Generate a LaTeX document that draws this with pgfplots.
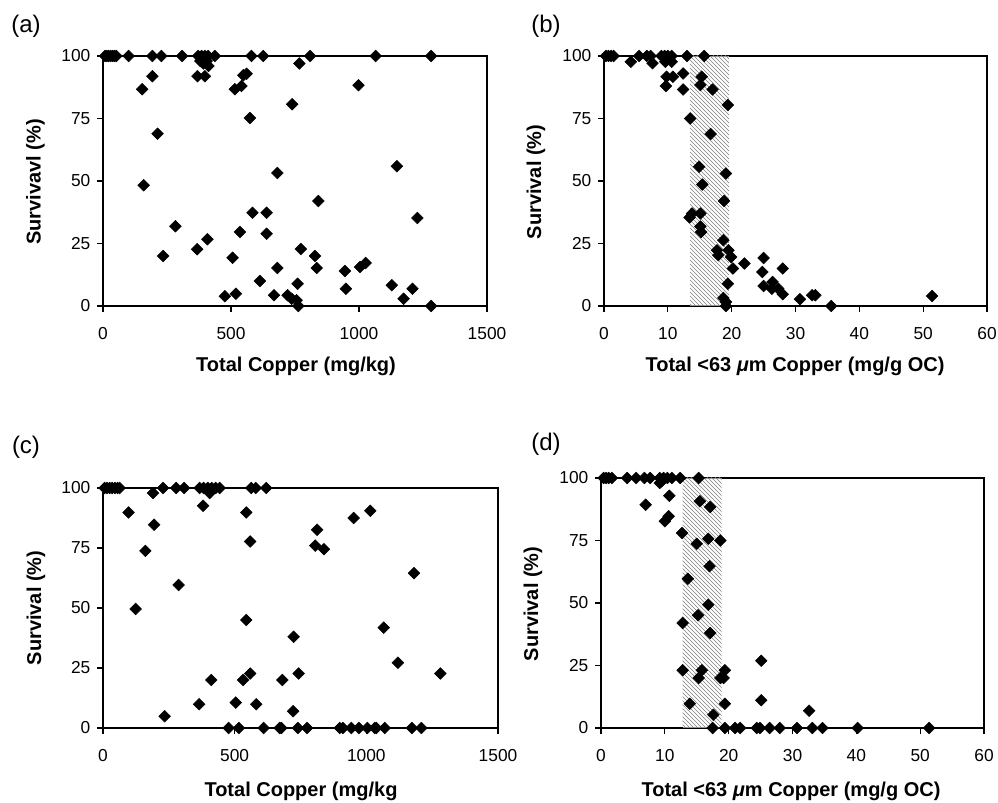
\documentclass[border=0pt]{standalone}
\usepackage{fontspec}
\setmainfont{Liberation Sans}
\usepackage{pgfplots}
\pgfplotsset{compat=1.18}
\usetikzlibrary{patterns}

\newcommand\px{0.75pt}

\pgfplotsset{
  panel/.style={
    scale only axis, clip=false, anchor=south west,
    axis line style={line width=0.9pt},
    tick pos=left, tick align=outside,
    major tick length=4.5pt,
    every tick/.style={line width=0.8pt, black},
    ymin=0, ymax=100, ytick={0,25,50,75,100},
    tick label style={font=\fontsize{13}{15}\selectfont},
    xticklabel style={yshift=-8pt},
    yticklabel style={xshift=-1.5pt},
    /pgf/number format/assume math mode=true,
    /pgf/number format/1000 sep={},
  },
  cu/.style={panel, xmin=0, xmax=1500, xtick={0,500,1000,1500}},
  oc/.style={panel, xmin=0, xmax=60, xtick={0,10,...,60}},
  dots/.style={only marks, mark=square*, mark size=3.1pt, black, mark options={rotate=45}},
}
\tikzset{hatch/.style={pattern=north west lines, pattern color=black!50}}
\newcommand\lab{\fontsize{15}{17}\selectfont\bfseries}
\newcommand\plet{\fontsize{18}{20}\selectfont}

\begin{document}
\begin{tikzpicture}
\useasboundingbox (0,0) rectangle (998*\px,802*\px);

% (a) survival vs total copper
\begin{axis}[cu, at={(77.25pt,372pt)}, width=288pt, height=187.5pt]
\addplot[dots] coordinates {
(8,100)(15,100)(22,100)(30,100)(38,100)(45,100)(52,100)
(100,100)(193,100)(228,100)(309,100)(372,100)(385,100)(398,100)(411,100)(437,100)
(580,100)(626,100)(809,100)(1065,100)(1282,100)
(380,98)(392,97)(405,98)(412,96)(767,97)
(153,86.7)(193,91.9)(213,68.9)(159,48.3)(283,31.9)(235,20)
(369,91.9)(398,91.9)(368,22.7)(408,26.7)
(515,86.7)(541,88)(548,92.3)(561,92.9)(574,75.2)
(584,37.3)(639,37.3)(639,28.9)(535,29.6)(506,19.3)
(476,3.9)(519,4.9)(613,10)(668,4.3)(681,53.2)(681,15.2)
(739,80.7)(721,4.3)(737,2.9)(756,2.3)(763,0)(760,8.9)(773,22.8)
(841,42)(828,20)(835,15.2)
(945,14)(949,6.9)(998,88.3)(1004,15.6)(1026,17.2)
(1148,55.9)(1128,8.3)(1174,2.9)(1209,6.9)(1228,35.2)(1282,0)
};
\end{axis}

% (b) survival vs <63 um copper per OC
\begin{axis}[oc, at={(453pt,372pt)}, width=287.25pt, height=187.5pt]
\addplot[dots] coordinates {
(0.3,100)(0.7,100)(1.1,100)(1.5,100)(5.5,100)(6.7,100)(7.3,100)
(9.0,100)(9.5,100)(10.0,100)(10.6,100)(13.0,100)(15.7,100)
(4.2,97.7)(7.6,97.1)(9.6,97.7)(10.6,97.7)(9.8,91.7)(10.8,91.7)(9.7,88)
(12.4,93)(12.4,86.6)(15.3,91.7)(15.1,88.4)(17.0,86.6)(19.4,80.4)
(13.5,75)(16.7,68.8)(14.9,55.7)(15.4,48.6)(19.1,53)(18.8,42)
(13.4,35.4)(13.8,37)(15.1,37)(15.1,31.8)(15.2,29.6)
(18.7,26.3)(17.7,22.3)(17.9,20.3)(19.5,22.3)(19.9,19.6)(20.2,15)
(22.0,17)(25.0,19.2)(24.8,13.6)(25.0,8)(26.4,9.6)(26.3,6.9)(27.3,6.9)
(28.0,15)(28.0,4.7)(19.4,8.9)(18.7,3.2)(19.1,1.6)(19.1,0)
(30.7,2.7)(32.6,4.3)(33.1,4.3)(35.6,0)(51.4,4)
};
\fill[white, fill opacity=0.6] (axis cs:13.5,0) rectangle (axis cs:19.55,100);
\fill[hatch] (axis cs:13.5,0) rectangle (axis cs:19.55,100);
\end{axis}

% (c) survival vs total copper
\begin{axis}[cu, at={(77.25pt,55.5pt)}, width=296.25pt, height=180pt]
\addplot[dots] coordinates {
(6,100)(15,100)(25,100)(35,100)(45,100)(55,100)(63,100)
(228,100)(278,100)(308,100)(367,100)(382,100)(398,100)(413,100)(428,100)(443,100)
(563,100)(580,100)(620,100)
(97,89.8)(190,97.9)(194,84.7)(161,73.8)(124,49.6)(287,59.6)(234,4.9)
(380,92.6)(405,97.9)(365,9.9)(411,20)
(544,89.8)(559,77.7)(544,45)(559,22.7)(532,20)(504,10.6)(582,9.9)
(477,0)(516,0)(610,0)(671,0)(677,0)
(681,20)(724,38)(743,22.7)(722,7)(740,0)(775,0)
(813,82.6)(806,76)(839,74.5)(952,87.5)(1015,90.5)
(899,0)(911,0)(943,0)(972,0)(1004,0)(1032,0)(1038,0)(1070,0)
(1066,41.8)(1120,27.2)(1181,64.5)(1173,0)(1209,0)(1281,22.7)
};
\end{axis}

% (d) survival vs <63 um copper per OC
\begin{axis}[oc, at={(450.75pt,55.5pt)}, width=287.25pt, height=187.5pt]
\addplot[dots] coordinates {
(0.4,100)(0.8,100)(1.2,100)(1.7,100)(4.1,100)(5.5,100)(6.8,100)(7.7,100)
(9.2,100)(9.8,100)(10.4,100)(11.1,100)(12.4,100)(15.3,100)
(9.2,98)(9.5,98.7)(7.0,89.3)(10.7,92.9)(10.0,82.7)(10.6,84.7)
(12.7,78)(15.5,90.7)(17.1,88.4)(15.0,73.7)(16.8,75.7)(18.7,75)
(17.0,64.7)(13.6,59.7)(16.8,49.3)(15.2,45.1)(12.8,42)(17.1,38)
(12.8,23.1)(15.8,23.1)(15.3,20)(19.4,23.1)(19.2,20)(18.7,20)
(13.9,9.7)(19.4,9.7)(17.6,5.3)(17.5,0)(19.4,0)
(21.0,0)(21.8,0)(24.4,0)(24.9,0)(26.4,0)(28.0,0)(30.7,0)(33.1,0)(34.7,0)
(40.2,0)(51.4,0)
(25.1,26.9)(25.1,11.1)(32.6,6.9)
};
\fill[white, fill opacity=0.6] (axis cs:12.8,0) rectangle (axis cs:18.9,100);
\fill[hatch] (axis cs:12.8,0) rectangle (axis cs:18.9,100);
\end{axis}

% panel letters and axis titles
\node[font=\plet] at (26*\px,776*\px) {(a)};
\node[font=\plet] at (546*\px,776*\px) {(b)};
\node[font=\plet] at (26*\px,355*\px) {(c)};
\node[font=\plet] at (546*\px,358*\px) {(d)};

\node[font=\lab] at (296*\px,436*\px) {Total Copper (mg/kg)};
\node[font=\lab] at (795*\px,436*\px) {Total <63 \textit{μ}m Copper (mg/g OC)};
\node[font=\lab] at (301*\px,11*\px) {Total Copper (mg/kg};
\node[font=\lab] at (791*\px,11*\px) {Total <63 \textit{μ}m Copper (mg/g OC)};

\node[font=\lab, rotate=90] at (35.5*\px,620*\px) {Survivavl (\%)};
\node[font=\lab, rotate=90] at (536*\px,620*\px) {Survival (\%)};
\node[font=\lab, rotate=90] at (36*\px,194*\px) {Survival (\%)};
\node[font=\lab, rotate=90] at (533*\px,198*\px) {Survival (\%)};
\end{tikzpicture}
\end{document}
